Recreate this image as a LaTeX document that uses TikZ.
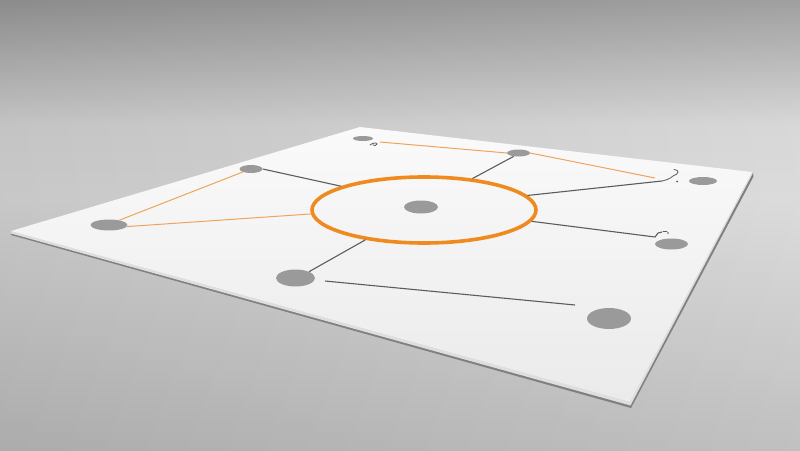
\documentclass[tikz,border=0pt]{standalone}
\usepackage{tikz}
\usetikzlibrary{shapes.geometric}
\definecolor{orange_ring}{HTML}{EF8A1E}
\definecolor{orange_thin}{HTML}{EEA45C}
\definecolor{gray_wire}{HTML}{5C5C5C}
\definecolor{gray_spot}{HTML}{9A9A9A}
\definecolor{bg_top}{HTML}{989898}
\definecolor{bg_light}{HTML}{D5D5D5}
\definecolor{bg_mid}{HTML}{D9D9D9}
\definecolor{bg_bottom}{HTML}{BBBBBB}
% vertical backdrop, 25bp = bottom edge, 75bp = top edge
\pgfdeclareverticalshading{backdrop}{100bp}{color(0bp)=(bg_bottom); color(25bp)=(bg_bottom); color(53bp)=(bg_mid); color(61bp)=(bg_light); color(75bp)=(bg_top); color(100bp)=(bg_top)}

\begin{document}
\begin{tikzpicture}[x=1pt,y=-1pt,
    spot/.style ={ellipse, fill=gray_spot, draw=none, inner sep=0pt},
    ring_hub/.style ={ellipse, draw=orange_ring, line width=3.6pt, fill=none,
      minimum width=224pt, minimum height=66pt, inner sep=0pt},
    wire_gray/.style ={draw=gray_wire, line width=1.1pt},
    wire_orange/.style ={draw=orange_thin, line width=1pt},
    squiggle/.style ={draw=gray_wire, line width=0.8pt, line cap=round}]
    \useasboundingbox (0,0) rectangle (800,450);
    % backdrop, a little darker on the left
    \shade[shading=backdrop] (0,0) rectangle (800,450);
    \shade[left color=black, right color=white, opacity=0.08] (0,0) rectangle (800,450);
    % the sheet, its shadow and edge
    \fill[black!50] (11,232) -- (630,404) -- (753,173) -- (753.5,176.5) -- (631,408) -- (11,235) -- cycle;
    \fill[black!13] (11,231) -- (630,402) -- (752,172) -- (752,174.5) -- (630.5,405.5) -- (11,233.5) -- cycle;
    \shade[top color=black!2, bottom color=black!8] (360,127) -- (752,172) -- (630,402) -- (11,231) -- cycle;
    % spots on the sheet
    \node [spot, minimum width=20pt, minimum height=5pt] (tl) at (363,138.5) {};
    \node [spot, minimum width=23pt, minimum height=7pt] (tm) at (518.5,153) {};
    \node [spot, minimum width=28pt, minimum height=8pt] (tr) at (703,181) {};
    \node [spot, minimum width=23pt, minimum height=8pt] (ul) at (251,169) {};
    \node [spot, minimum width=37pt, minimum height=11pt] (fl) at (109,225) {};
    \node [spot, minimum width=34pt, minimum height=13pt] (core) at (421,207) {};
    \node [spot, minimum width=33pt, minimum height=11pt] (mr) at (671.5,244) {};
    \node [spot, minimum width=39pt, minimum height=17pt] (ll) at (295.5,278) {};
    \node [spot, minimum width=44pt, minimum height=21pt] (br) at (609,318.5) {};
    \node [ring_hub] (hub) at (424,210) {};
    % loose ends of the links
    \coordinate (top_a) at (380,142);
    \coordinate (top_b) at (655,178);
    \coordinate (right_a) at (662,181);
    \coordinate (right_b) at (655,237);
    \coordinate (low_a) at (325,281);
    \coordinate (low_b) at (575,305);
    % connecting spots with links
    \begin{scope}[every path/.style=wire_gray]
      \path (ul.east)  -- (hub.164);
      \path (tm.215)   -- (hub.33);
      \path (hub.8)    -- (right_a);
      \path (hub.-6)   -- (right_b) -- ++(3,-4) -- ++(4,-1);
      \path (ll.25)    -- (hub.207);
      \path (low_a)    -- (low_b);
    \end{scope}
    \begin{scope}[every path/.style=wire_orange]
      \path (fl.25)    -- (ul.200);
      \path (fl.-5)    -- (hub.182);
      \path (top_a)    -- (tm.west);
      \path (tm.east)  -- (top_b);
    \end{scope}
    % small hooks at the ends
    \draw[squiggle] (370,145) .. controls (373,142.5) and (377,142.5) .. (377,144) .. controls (377,145.5) and (374,146) .. (373,145);
    \draw[squiggle] (right_a) .. controls (667,180) and (671,178) .. (673,176) .. controls (679,174) and (680,170) .. (674,169.5);
    \fill[gray_wire] (677,181.5) circle (1pt);
    \draw[squiggle] (663,231.5) -- (667,231.5);
    \fill[gray_wire] (668,233) circle (0.8pt);
\end{tikzpicture}
\end{document}
